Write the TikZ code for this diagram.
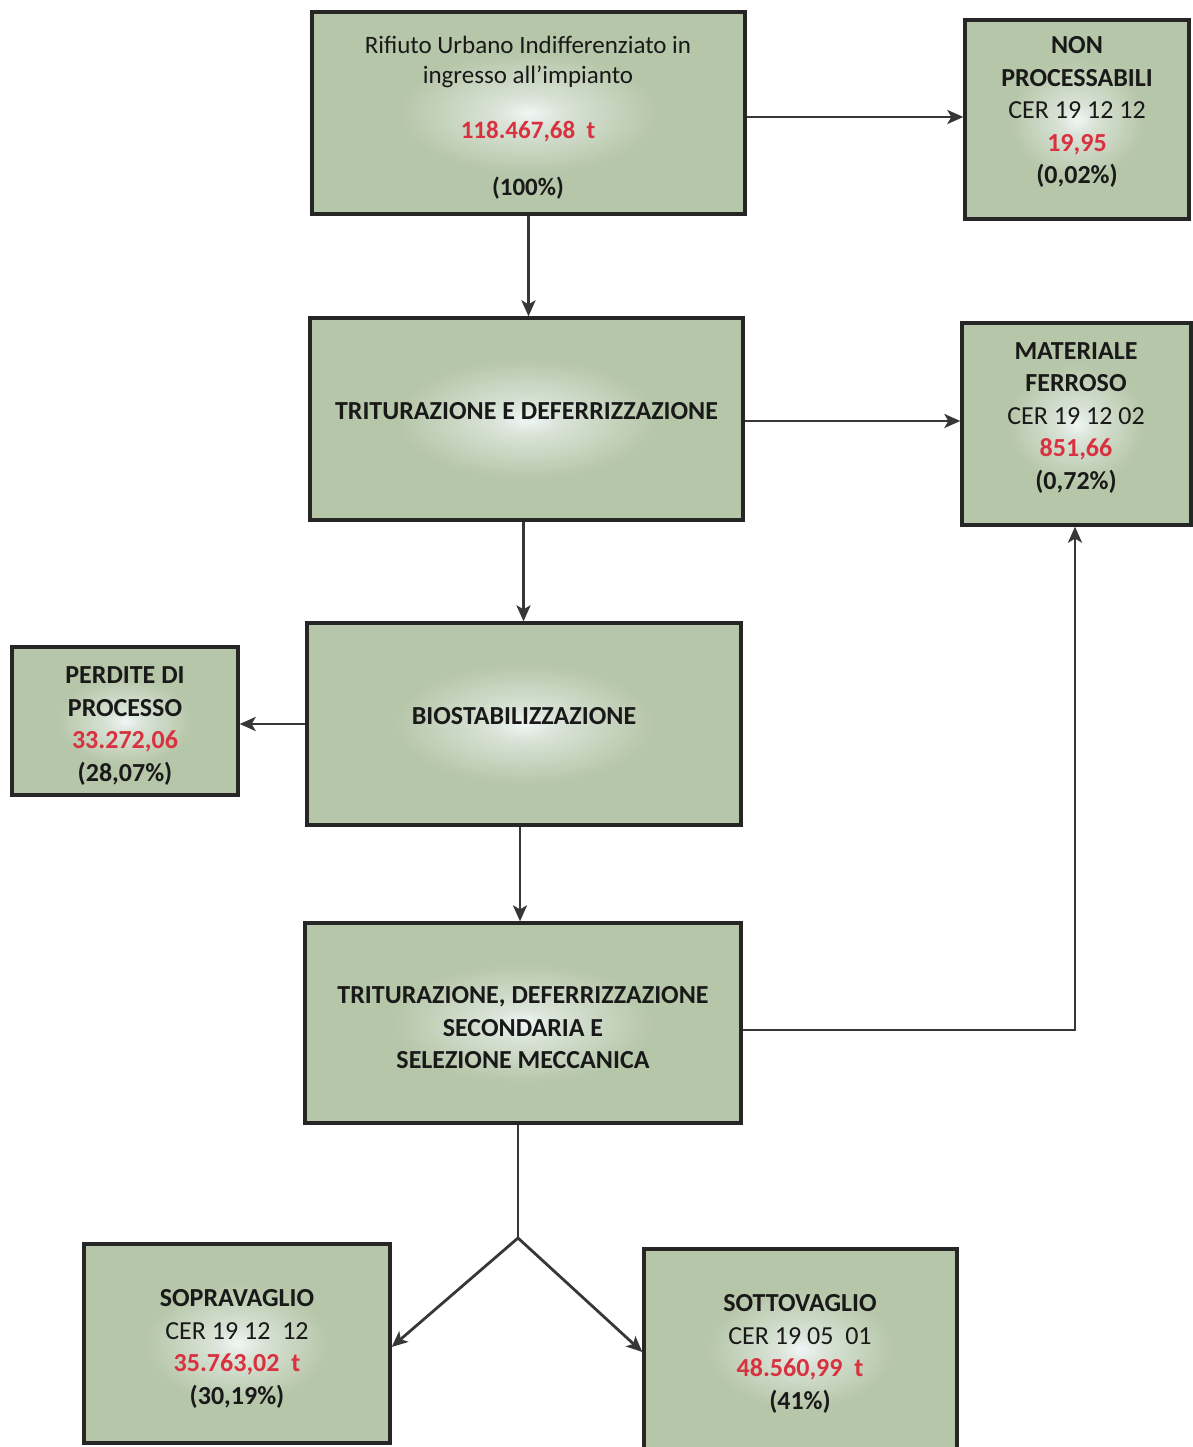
\documentclass[tikz,border=0pt]{standalone}
\usepackage{fontspec}
\setmainfont{Carlito}
\usetikzlibrary{arrows.meta}
\definecolor{boxg}{RGB}{182,198,168}
\definecolor{glowc}{RGB}{240,246,246}
\colorlet{glowm}{glowc!60!boxg}
\definecolor{edgec}{RGB}{38,38,38}
\definecolor{lnc}{RGB}{55,55,55}
\definecolor{valc}{RGB}{216,49,63}
\pgfdeclareradialshading{boxglow}{\pgfpoint{0bp}{0bp}}{color(0bp)=(glowc); color(4bp)=(glowm); color(15bp)=(boxg); color(50bp)=(boxg)}
\tikzset{
  flowbox/.style={draw=edgec, line width=3.3pt, shade, shading=boxglow, inner sep=0pt},
  txt/.style={align=center, inner sep=0pt, text=black!90, font=\fontsize{26}{32.5}\selectfont},
  flow/.style={draw=lnc, line width=2.8pt, -{Stealth[length=16pt,width=14pt,inset=4pt]}},
}
\newcommand{\val}[1]{\textcolor{valc}{\textbf{#1}}}
\begin{document}
\begin{tikzpicture}[x=1pt,y=-1pt]
\useasboundingbox (0,0) rectangle (1192,1447);
% boxes
\node[flowbox, minimum width=433pt, minimum height=202pt] (A) at (528.5,113) {};
\node[flowbox, minimum width=224pt, minimum height=199pt] (NP) at (1077,119.5) {};
\node[flowbox, minimum width=433pt, minimum height=202pt] (T1) at (526.5,419) {};
\node[flowbox, minimum width=229pt, minimum height=202pt] (MF) at (1076.5,424) {};
\node[flowbox, minimum width=434pt, minimum height=202pt] (BIO) at (524,724) {};
\node[flowbox, minimum width=226pt, minimum height=148pt] (PD) at (125,721) {};
\node[flowbox, minimum width=436pt, minimum height=200pt] (T2) at (523,1023) {};
\node[flowbox, minimum width=306pt, minimum height=199pt] (SOPRA) at (237,1343.5) {};
\node[flowbox, minimum width=313pt, minimum height=200pt] (SOTTO) at (800.5,1349) {};
% texts
\node[txt, font=\fontsize{25}{30}\selectfont] (tA) at (528,118)
  {Rifiuto Urbano Indifferenziato in\\ingresso all’impianto\\[25pt]\val{118.467,68\ \ t}\\[27pt]\textbf{(100\%)}};
\node[txt] (tNP) at (1077,112)
  {\textbf{NON}\\\textbf{PROCESSABILI}\\CER 19 12 12\\\val{19,95}\\\textbf{(0,02\%)}};
\node[txt] (tT1) at (526.5,411) {\textbf{TRITURAZIONE E DEFERRIZZAZIONE}};
\node[txt] (tMF) at (1076,418)
  {\textbf{MATERIALE}\\\textbf{FERROSO}\\CER 19 12 02\\\val{851,66}\\\textbf{(0,72\%)}};
\node[txt] (tBIO) at (524,716) {\textbf{BIOSTABILIZZAZIONE}};
\node[txt] (tPD) at (125,726)
  {\textbf{PERDITE DI}\\\textbf{PROCESSO}\\\val{33.272,06}\\\textbf{(28,07\%)}};
\node[txt] (tT2) at (523,1028)
  {\textbf{TRITURAZIONE, DEFERRIZZAZIONE}\\\textbf{SECONDARIA E}\\\textbf{SELEZIONE MECCANICA}};
\node[txt] (tSOPRA) at (237,1349)
  {\textbf{SOPRAVAGLIO}\\CER 19 12\ \ 12\\\val{35.763,02\ \ t}\\\textbf{(30,19\%)}};
\node[txt] (tSOTTO) at (800,1354)
  {\textbf{SOTTOVAGLIO}\\CER 19 05\ \ 01\\\val{48.560,99\ \ t}\\\textbf{(41\%)}};
% connectors
\coordinate (split) at (518,1238);
\draw[flow] ([yshift=-4pt]A.east) -- ([yshift=-4pt]A.east -| NP.west);
\draw[flow] (A.south) -- (A.south |- T1.north);
\draw[flow] ([yshift=-2pt]T1.east) -- ([yshift=-2pt]T1.east -| MF.west);
\draw[flow] ([xshift=-3pt]T1.south) -- ([xshift=-3pt]T1.south |- BIO.north);
\draw[flow] (BIO.west) -- (BIO.west -| PD.east);
\draw[flow] ([xshift=-4pt]BIO.south) -- ([xshift=-4pt]BIO.south |- T2.north);
\draw[flow] ([yshift=-7pt]T2.east) -| ([xshift=-1.5pt]MF.south);
\draw[draw=lnc, line width=2.8pt] (T2.south -| split) -- (split);
\draw[flow] (split) -- ([yshift=-3.5pt]SOPRA.east);
\draw[flow] (split) -- ([yshift=-3pt]SOTTO.west);
\end{tikzpicture}
\end{document}
